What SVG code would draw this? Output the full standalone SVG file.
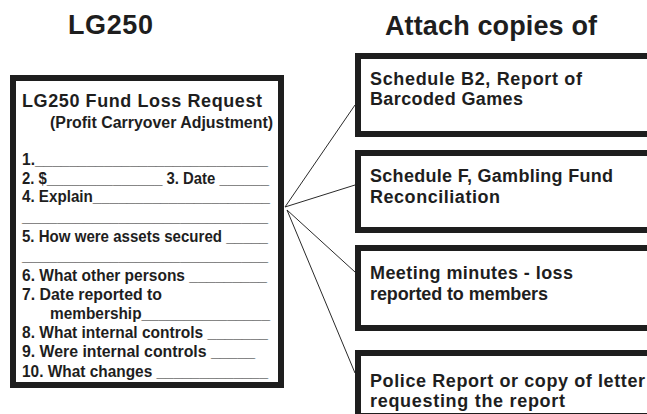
<svg xmlns="http://www.w3.org/2000/svg" width="647" height="414" viewBox="0 0 647 414">
<style>
.hdr{font-family:"Liberation Sans",Arial,sans-serif;font-weight:bold;font-size:27px;fill:#1e1e1e}
.t{font-family:"Liberation Sans",Arial,sans-serif;font-weight:bold;font-size:16px;fill:#1e1e1e}
.tt{font-family:"Liberation Sans",Arial,sans-serif;font-weight:bold;font-size:18px;fill:#1e1e1e}
.r{font-family:"Liberation Sans",Arial,sans-serif;font-weight:bold;font-size:18px;fill:#1e1e1e}
.box{fill:#fff;stroke:#1e1e1e;stroke-width:6}
.conn{stroke:#2a2a2a;stroke-width:1;fill:none}
</style>
<rect width="647" height="414" fill="#fff"/>
<text class="hdr" x="68" y="34" textLength="85" lengthAdjust="spacing">LG250</text>
<text class="hdr" x="385" y="35" textLength="212" lengthAdjust="spacing">Attach copies of</text>

<g id="connectors">
<line class="conn" x1="285" y1="207" x2="355" y2="105"/>
<line class="conn" x1="285" y1="207" x2="355" y2="185"/>
<line class="conn" x1="287" y1="210" x2="355" y2="272"/>
<line class="conn" x1="287" y1="210" x2="355" y2="373"/>
</g>

<g id="lg250-form">
<rect class="box" x="13" y="78" width="268" height="307"/>
<text class="tt" x="22" y="107" textLength="240" lengthAdjust="spacing">LG250 Fund Loss Request</text>
<text class="t" x="50" y="128" textLength="223" lengthAdjust="spacingAndGlyphs">(Profit Carryover Adjustment)</text>
<text class="t" x="22" y="165" textLength="246" lengthAdjust="spacingAndGlyphs">1.___________________________</text>
<text class="t" x="22" y="184" textLength="247" lengthAdjust="spacingAndGlyphs">2. $______________ 3. Date ______</text>
<text class="t" x="22" y="202" textLength="248" lengthAdjust="spacingAndGlyphs">4. Explain_____________________</text>
<text class="t" x="22" y="222" textLength="246" lengthAdjust="spacingAndGlyphs">____________________________</text>
<text class="t" x="22" y="242" textLength="246" lengthAdjust="spacingAndGlyphs">5.  How were assets secured  _____</text>
<text class="t" x="22" y="261" textLength="246" lengthAdjust="spacingAndGlyphs">____________________________</text>
<text class="t" x="22" y="281" textLength="245" lengthAdjust="spacingAndGlyphs">6.  What other persons _________</text>
<text class="t" x="22" y="300" textLength="140" lengthAdjust="spacingAndGlyphs">7.  Date reported to</text>
<text class="t" x="50" y="319" textLength="220" lengthAdjust="spacingAndGlyphs">membership_______________</text>
<text class="t" x="22" y="338" textLength="246" lengthAdjust="spacingAndGlyphs">8.  What internal controls _______</text>
<text class="t" x="22" y="357" textLength="233" lengthAdjust="spacingAndGlyphs">9.   Were internal controls _____</text>
<text class="t" x="22" y="377" textLength="246" lengthAdjust="spacingAndGlyphs">10. What changes _____________</text>
</g>

<g id="schedule-b2">
<rect class="box" x="358" y="56" width="310" height="78"/>
<text class="r" x="370" y="85" textLength="212" lengthAdjust="spacing">Schedule B2, Report of</text>
<text class="r" x="370" y="105" textLength="153" lengthAdjust="spacing">Barcoded Games</text>
</g>

<g id="schedule-f">
<rect class="box" x="358" y="153" width="310" height="77"/>
<text class="r" x="370" y="182" textLength="243" lengthAdjust="spacing">Schedule F, Gambling Fund</text>
<text class="r" x="370" y="203" textLength="130" lengthAdjust="spacing">Reconciliation</text>
</g>

<g id="meeting-minutes">
<rect class="box" x="358" y="248" width="310" height="80"/>
<text class="r" x="370" y="279" textLength="203" lengthAdjust="spacing">Meeting minutes - loss</text>
<text class="r" x="370" y="300" textLength="178" lengthAdjust="spacing">reported to members</text>
</g>

<g id="police-report">
<rect class="box" x="358" y="353" width="310" height="63"/>
<text class="r" x="370" y="387" textLength="275" lengthAdjust="spacing">Police Report or copy of letter</text>
<text class="r" x="370" y="407" textLength="195" lengthAdjust="spacing">requesting the report</text>
</g>
</svg>
